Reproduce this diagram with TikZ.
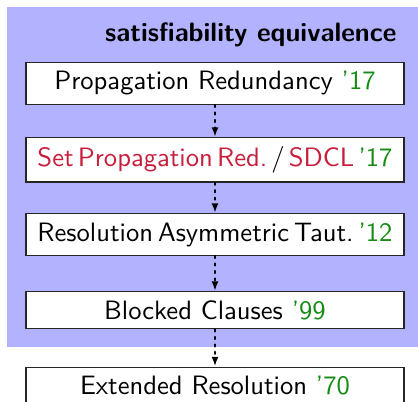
\documentclass[tikz,border=0pt]{standalone}
\usetikzlibrary{arrows.meta}
\renewcommand{\familydefault}{\sfdefault}
\definecolor{bgblue}{RGB}{178,178,255}
\definecolor{yeargreen}{RGB}{20,140,20}
\definecolor{namered}{RGB}{200,30,60}
\newlength{\boxtextw}
\setlength{\boxtextw}{133.5pt}
\newcommand{\fitline}[1]{\spaceskip=3.33pt plus 1.67pt minus 2pt\relax\hbox to \boxtextw{\hfil #1\hfil}}
\hbadness=10000 \hfuzz=100pt
\frenchspacing
\begin{document}
\begin{tikzpicture}[x=0.376pt,y=-0.376pt,
  box/.style={draw=black!85, line width=0.5pt, fill=white, minimum width=378*0.376pt, inner sep=0.3333em, anchor=north},
  flow/.style={-{Latex[length=3.6pt,width=2.6pt]}, thick, dotted, line cap=round}]
\clip (0,0) rectangle (418,401);
\useasboundingbox (0,0) rectangle (418,401);
\fill[bgblue] (7,7) rectangle (418,347);
\node[anchor=base east, inner sep=0pt, font=\bfseries] (title) at (397,41.7) {satisfiability equivalence};
\node[box] (pr) at (215,62) {\fitline{Propagation Redundancy \textcolor{yeargreen}{'17}}};
\node[box] (spr) at (215,137) {\fitline{\textcolor{namered}{Set Propagation Red.}\ /\ \textcolor{namered}{SDCL}\ \textcolor{yeargreen}{'17}}};
\node[box] (rat) at (215,213) {\fitline{Resolution Asymmetric Taut.\ \textcolor{yeargreen}{'12}}};
\node[box] (bc) at (215,291) {\fitline{Blocked Clauses \textcolor{yeargreen}{'99}}};
\node[box] (er) at (215,366.5) {\fitline{Extended Resolution \textcolor{yeargreen}{'70}}};
\draw[flow] (pr) -- (spr);
\draw[flow] (spr) -- (rat);
\draw[flow] (rat) -- (bc);
\draw[flow] (bc) -- (er);
\end{tikzpicture}
\end{document}
